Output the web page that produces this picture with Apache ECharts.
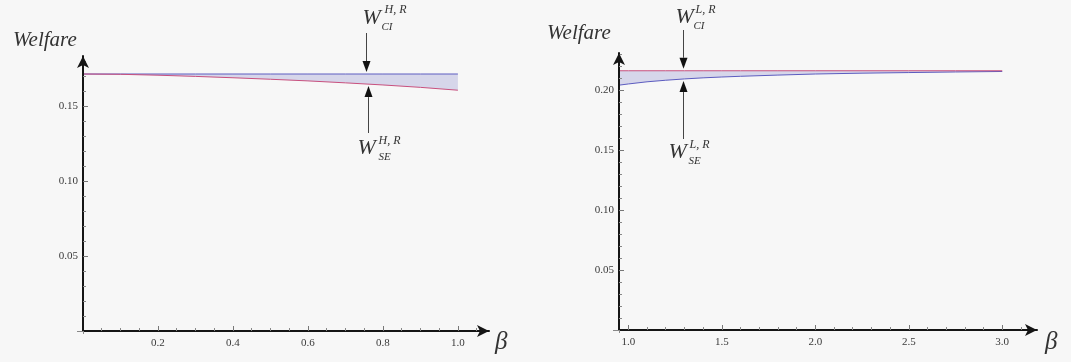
<!DOCTYPE html>
<html>
<head>
<meta charset="utf-8">
<script src="https://cdn.jsdelivr.net/npm/echarts@6/dist/echarts.min.js"></script>
<style>
html, body { margin: 0; padding: 0; background: #f7f7f7; }
#chart { width: 1071px; height: 362px; }
</style>
</head>
<body>
<div id="chart"></div>
<script>
// left panel (H, R)
const betaH = [0, 0.1, 0.2, 0.3, 0.4, 0.5, 0.6, 0.7, 0.8, 0.9, 1.0];
const welfareCI_H = [0.1713, 0.1713, 0.1713, 0.1713, 0.1713, 0.1713, 0.1713, 0.1713, 0.1713, 0.1713, 0.1713];
const welfareSE_H = [0.1713, 0.1711, 0.1705, 0.1697, 0.1688, 0.1678, 0.1667, 0.1654, 0.1640, 0.1624, 0.1605];

// right panel (L, R)
const betaL = [0.95, 1.0, 1.1, 1.2, 1.3, 1.4, 1.5, 1.6, 1.8, 2.0, 2.25, 2.5, 2.75, 3.0];
const welfareCI_L = [0.2160, 0.2160, 0.2160, 0.2160, 0.2160, 0.2160, 0.2160, 0.2160, 0.2160, 0.2160, 0.2160, 0.2160, 0.2160, 0.2160];
const welfareSE_L = [0.2040, 0.2050, 0.2068, 0.2081, 0.2092, 0.2101, 0.2108, 0.2114, 0.2124, 0.2133, 0.2140, 0.2145, 0.2150, 0.2154];

// ticks
const xLabelsH = [0.2, 0.4, 0.6, 0.8, 1.0];
const xMinorH = [0.05, 0.1, 0.15, 0.25, 0.3, 0.35, 0.45, 0.5, 0.55, 0.65, 0.7, 0.75, 0.85, 0.9, 0.95, 1.05];
const yLabelsH = [0.05, 0.10, 0.15];
const yMinorH = [0.01, 0.02, 0.03, 0.04, 0.06, 0.07, 0.08, 0.09, 0.11, 0.12, 0.13, 0.14, 0.16, 0.17, 0.18];

const xLabelsL = [1.0, 1.5, 2.0, 2.5, 3.0];
const xMinorL = [1.1, 1.2, 1.3, 1.4, 1.6, 1.7, 1.8, 1.9, 2.1, 2.2, 2.3, 2.4, 2.6, 2.7, 2.8, 2.9, 3.1];
const yLabelsL = [0.05, 0.10, 0.15, 0.20];
const yMinorL = [0.01, 0.02, 0.03, 0.04, 0.06, 0.07, 0.08, 0.09, 0.11, 0.12, 0.13, 0.14, 0.16, 0.17, 0.18, 0.19, 0.21, 0.22, 0.23];

const BLUE = '#5c5cc0';
const PINK = '#c8507e';
const BAND = '#d6d6ea';
const SERIF = '"Liberation Serif", "DejaVu Serif", serif';

const chart = echarts.init(document.getElementById('chart'));

function mainAxis(gi, pos, min, max, labels, digits) {
    return {
        type: 'value', gridIndex: gi, position: pos, min: min, max: max, z: 5,
        splitLine: { show: false },
        axisLine: {
            show: true, onZero: false,
            lineStyle: { color: '#151515', width: 2 },
            symbol: ['none', 'arrow'], symbolSize: [9, 12]
        },
        axisTick: { show: true, inside: true, length: 5, customValues: labels, lineStyle: { color: '#777', width: 1 } },
        axisLabel: {
            show: true, customValues: labels,
            formatter: function (v) { return v.toFixed(digits); },
            margin: pos === 'left' ? 5 : 7,
            fontFamily: SERIF, fontSize: 11, color: '#3a3a3a'
        }
    };
}
function minorAxis(gi, pos, min, max, values) {
    return {
        type: 'value', gridIndex: gi, position: pos, min: min, max: max, z: 5,
        splitLine: { show: false },
        axisLine: { show: false, onZero: false },
        axisTick: { show: true, inside: true, length: 3, customValues: values, lineStyle: { color: '#888', width: 1 } },
        axisLabel: { show: false }
    };
}
function originAxis(gi, pos, min, max, len) {
    return {
        type: 'value', gridIndex: gi, position: pos, min: min, max: max, z: 5,
        splitLine: { show: false },
        axisLine: { show: false, onZero: false },
        axisTick: { show: true, inside: false, length: len, customValues: [min], lineStyle: { color: '#888', width: 1 } },
        axisLabel: { show: false }
    };
}

function band(gi, xs, upper, lower) {
    return {
        type: 'custom', xAxisIndex: gi * 3, yAxisIndex: gi * 3, silent: true, z: 1,
        data: [[xs[0], lower[0]]],
        renderItem: function (params, api) {
            const pts = [];
            for (let i = 0; i < xs.length; i++) pts.push(api.coord([xs[i], upper[i]]));
            for (let i = xs.length - 1; i >= 0; i--) pts.push(api.coord([xs[i], lower[i]]));
            return { type: 'polygon', shape: { points: pts }, style: { fill: BAND } };
        }
    };
}
function curve(gi, xs, ys, color) {
    return {
        type: 'line', xAxisIndex: gi * 3, yAxisIndex: gi * 3, z: 3,
        data: xs.map(function (x, i) { return [x, ys[i]]; }),
        symbol: 'none', smooth: false, silent: true,
        lineStyle: { color: color, width: 1 }
    };
}

const xMaxH = 1.083, yMaxH = 0.1833;
const xMinL = 0.95, xMaxL = 3.186, yMaxL = 0.2308;

const option = {
    backgroundColor: '#f7f7f7',
    animation: false,
    grid: [
        { left: 83, top: 56, width: 406, bottom: 31 },
        { left: 619, top: 53, width: 418, bottom: 32 }
    ],
    xAxis: [
        mainAxis(0, 'bottom', 0, xMaxH, xLabelsH, 1),
        minorAxis(0, 'bottom', 0, xMaxH, xMinorH),
        originAxis(0, 'bottom', 0, xMaxH, 3),
        mainAxis(1, 'bottom', xMinL, xMaxL, xLabelsL, 1),
        minorAxis(1, 'bottom', xMinL, xMaxL, xMinorL),
        originAxis(1, 'bottom', xMinL, xMaxL, 3)
    ],
    yAxis: [
        mainAxis(0, 'left', 0, yMaxH, yLabelsH, 2),
        minorAxis(0, 'left', 0, yMaxH, yMinorH),
        originAxis(0, 'left', 0, yMaxH, 6),
        mainAxis(1, 'left', 0, yMaxL, yLabelsL, 2),
        minorAxis(1, 'left', 0, yMaxL, yMinorL),
        originAxis(1, 'left', 0, yMaxL, 6)
    ],
    series: [
        band(0, betaH, welfareCI_H, welfareSE_H),
        curve(0, betaH, welfareCI_H, BLUE),
        curve(0, betaH, welfareSE_H, PINK),
        band(1, betaL, welfareCI_L, welfareSE_L),
        curve(1, betaL, welfareSE_L, BLUE),
        curve(1, betaL, welfareCI_L, PINK)
    ]
};
chart.setOption(option);

// annotations: arrows point at the curves, labels placed around them
function valueAt(xs, ys, x) {
    for (let i = 0; i < xs.length - 1; i++) {
        if (x >= xs[i] && x <= xs[i + 1]) {
            const t = (x - xs[i]) / (xs[i + 1] - xs[i]);
            return ys[i] + t * (ys[i + 1] - ys[i]);
        }
    }
    return ys[ys.length - 1];
}

const notes = [
    { gi: 0, beta: 0.755, xs: betaH, ys: welfareCI_H, down: true, end: 33, sup: 'H, R', sub: 'CI',
      w: [-4, 18], supAt: [18, 10], subAt: [15, 27] },
    { gi: 0, beta: 0.76, xs: betaH, ys: welfareSE_H, down: false, end: 133, sup: 'H, R', sub: 'SE',
      w: [-11, 148], supAt: [10, 141], subAt: [10, 157] },
    { gi: 1, beta: 1.29, xs: betaL, ys: welfareCI_L, down: true, end: 30, sup: 'L, R', sub: 'CI',
      w: [-8, 17], supAt: [12, 10], subAt: [10, 26] },
    { gi: 1, beta: 1.29, xs: betaL, ys: welfareSE_L, down: false, end: 139, sup: 'L, R', sub: 'SE',
      w: [-15, 152], supAt: [6, 145], subAt: [5, 161] }
];

function txt(x, y, s, size) {
    return {
        type: 'text', x: x, y: y, z: 10,
        style: { text: s, font: 'italic ' + size + 'px ' + SERIF, fill: '#333', verticalAlign: 'middle' }
    };
}

const graphics = [];
notes.forEach(function (n) {
    const p = chart.convertToPixel({ gridIndex: n.gi }, [n.beta, valueAt(n.xs, n.ys, n.beta)]);
    const x = Math.round(p[0]) + 0.5;
    const tip = n.down ? p[1] - 2 : p[1] + 2;
    const base = n.down ? tip - 11 : tip + 11;
    graphics.push({ type: 'line', z: 10, shape: { x1: x, y1: n.end, x2: x, y2: base }, style: { stroke: '#444', lineWidth: 1 } });
    graphics.push({ type: 'polygon', z: 10, shape: { points: [[x - 4, base], [x + 4, base], [x, tip]] }, style: { fill: '#111' } });
    graphics.push(txt(x + n.w[0], n.w[1], 'W', 22));
    graphics.push(txt(x + n.supAt[0], n.supAt[1], n.sup, 12));
    graphics.push(txt(x + n.subAt[0], n.subAt[1], n.sub, 11));
});

// axis titles
graphics.push(txt(13, 40, 'Welfare', 21));
graphics.push(txt(547, 33, 'Welfare', 21));
graphics.push(txt(495, 342, 'β', 25));
graphics.push(txt(1045, 342, 'β', 25));

chart.setOption({ graphic: graphics });
</script>
</body>
</html>
